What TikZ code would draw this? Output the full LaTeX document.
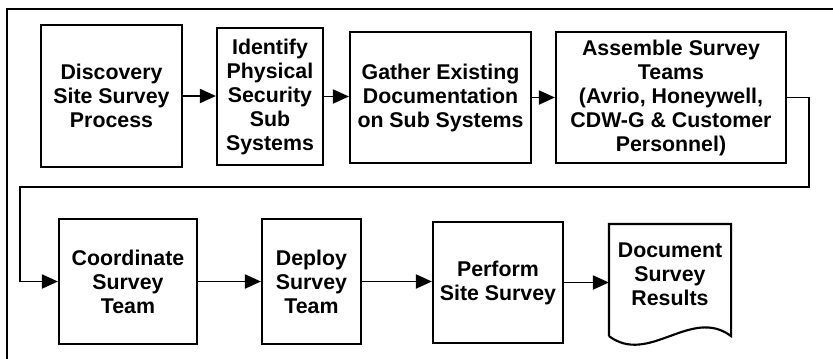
\documentclass[tikz,border=0pt]{standalone}
\usepackage{fontspec}
\setmainfont{Liberation Sans}
\usetikzlibrary{arrows.meta}

\tikzset{
blk/.style={draw, line width=1.6pt, align=center, inner sep=0pt,
  font=\bfseries\fontsize{16}{18}\selectfont},
arr/.style={line width=1.4pt, -{Triangle[length=12pt,width=10.5pt]}}
}

\begin{document}
\begin{tikzpicture}[x=0.75pt,y=-0.75pt]
\useasboundingbox (0,0) rectangle (833,358);
% frame
\draw[line width=0.9pt] (7,370) -- (7,9) -- (845,9);

% top row
\node[blk, minimum width=105.75pt, minimum height=106.5pt] (disc) at (111.5,96) {Discovery\\Site Survey\\Process};
\node[blk, minimum width=79.5pt, minimum height=102.75pt] (ident) at (270,96.5) {Identify\\Physical\\Security\\Sub\\Systems};
\node[blk, minimum width=135.75pt, minimum height=98.25pt] (gath) at (440.5,97.5) {Gather Existing\\Documentation\\on Sub Systems};
\node[blk, minimum width=172.5pt, minimum height=98.25pt] (assem) at (671,97.5) {Assemble Survey\\Teams\\(Avrio, Honeywell,\\CDW-G \& Customer\\Personnel)};

% bottom row
\node[blk, minimum width=103.5pt, minimum height=93.75pt] (coord) at (128,281.5) {Coordinate\\Survey\\Team};
\node[blk, minimum width=74.25pt, minimum height=93.75pt] (deploy) at (311.5,281.5) {Deploy\\Survey\\Team};
\node[blk, minimum width=97.5pt, minimum height=90.75pt] (perf) at (498,282.5) {Perform\\Site Survey};
\node[blk, draw=none, minimum width=90pt, minimum height=73.5pt] (docres) at (670,274) {Document\\Survey\\Results};
\draw[line width=1.6pt] ([yshift=-9pt]docres.south west) -- (docres.north west) -- (docres.north east) -- ([yshift=-9pt]docres.south east)
  .. controls ([shift={(-30pt,13.5pt)}]docres.south east) and ([shift={(30pt,-31.5pt)}]docres.south west) .. ([yshift=-9pt]docres.south west);

% connectors
\coordinate (turnR) at (809,187);
\coordinate (turnL) at (20,187);
\draw[arr] (disc.east) -- (disc.east -| ident.west);
\draw[arr] (ident.east) -- (ident.east -| gath.west);
\draw[arr] (gath.east) -- (gath.east -| assem.west);
\draw[arr] (assem.east) -| (turnR) -- (turnL) |- (coord.west);
\draw[arr] (coord.east) -- (coord.east -| deploy.west);
\draw[arr] (deploy.east) -- (deploy.east -| perf.west);
\draw[arr] (perf.east) -- (perf.east -| docres.west);
\end{tikzpicture}
\end{document}
